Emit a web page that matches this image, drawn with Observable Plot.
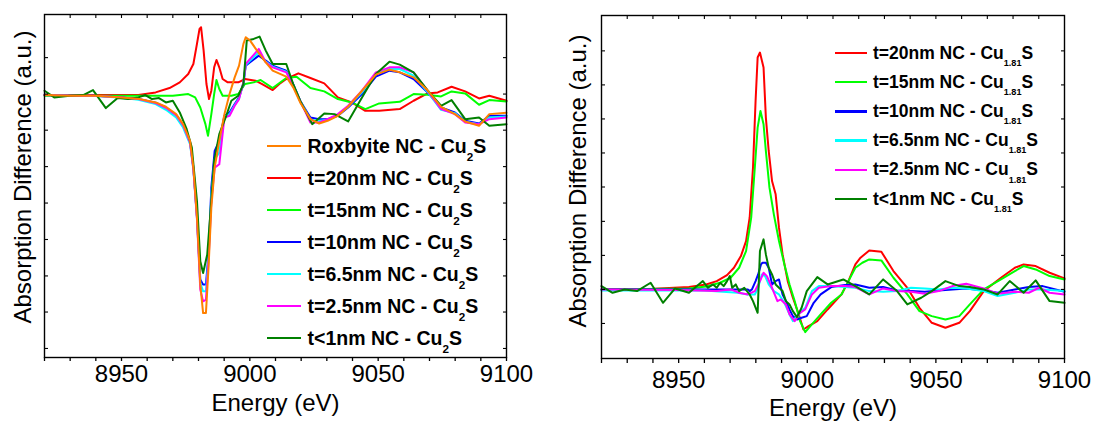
<!DOCTYPE html>
<html><head><meta charset="utf-8">
<script src="https://cdn.jsdelivr.net/npm/d3@7"></script>
<script src="https://cdn.jsdelivr.net/npm/@observablehq/plot@0.6"></script>
<style>
body{margin:0;background:#fff;font-family:"Liberation Sans",Arial,sans-serif;}
#wrap{position:relative;width:1094px;height:423px;overflow:hidden;background:#fff;}
.panel{position:absolute;top:0;}
.legend{position:absolute;font-weight:bold;color:#000;}
.row{position:absolute;left:0;display:flex;align-items:center;white-space:nowrap;}
.sw{flex:none;}
.sub{position:relative;}
</style></head><body><div id="wrap"></div>
<script>
// ---------- axis ticks ----------
const xAllTicks = [8920,8930,8940,8950,8960,8970,8980,8990,9000,9010,9020,9030,9040,9050,9060,9070,9080,9090,9100];
const xTickLabels = [8950,9000,9050,9100];
const leftYTicks = [1.14,0.05,-1.03,-2.12,-3.21,-4.30,-5.39,-6.47,-7.56];
const rightYTicks = [7.15,6.13,5.11,4.09,3.07,2.04,1.02,0,-1.02];

// ---------- left panel series: [energy eV, absorption difference a.u.] ----------
const leftNames = ["Roxbyite NC - Cu|2|S","t=20nm NC - Cu|2|S","t=15nm NC - Cu|2|S","t=10nm NC - Cu|2|S","t=6.5nm NC - Cu|2|S","t=2.5nm NC - Cu|2|S","t<1nm NC - Cu|2|S"];
const leftRoxbyite = [[8920,0.02],[8930,0.00],[8940,0.00],[8950,-0.05],[8957,-0.10],[8963.3,-0.20],[8967.3,-0.33],[8971.3,-0.55],[8974,-0.85],[8976.7,-1.35],[8978,-2.15],[8979.4,-3.65],[8980.7,-5.65],[8981.8,-6.50],[8982.9,-6.50],[8983.9,-5.15],[8985,-3.35],[8986.3,-2.15],[8988.1,-1.35],[8990.1,-0.55],[8992.1,0.05],[8994.1,0.55],[8995.8,0.90],[8997.5,1.55],[8998.4,1.75],[9000.1,1.65],[9002.8,1.35],[9006.2,1.00],[9008.9,0.75],[9014.2,0.57],[9016.9,0.25],[9019.6,-0.20],[9023.6,-0.70],[9027,-0.83],[9030.3,-0.75],[9034.3,-0.60],[9038.3,-0.33],[9043.7,0.15],[9049.1,0.63],[9054.4,0.78],[9058.4,0.70],[9063.8,0.55],[9069.2,0.17],[9074.5,-0.33],[9079.9,-0.55],[9083.9,-0.77],[9089.3,-0.90],[9093.3,-0.55],[9100,-0.51]];
const left20nm = [[8920,0.02],[8940,0.02],[8956.6,0.02],[8963.3,0.10],[8968.7,0.23],[8972.7,0.40],[8976,0.65],[8978,0.95],[8979.4,1.55],[8980.4,2.00],[8981,2.05],[8982,1.35],[8983.1,0.35],[8984.1,-0.10],[8985,0.15],[8986.1,0.85],[8987,1.07],[8988.1,0.85],[8989.4,0.50],[8991.4,0.40],[8995.5,0.40],[8998.1,0.50],[9002.2,0.45],[9004.8,0.35],[9008.9,0.17],[9011.5,0.35],[9014.2,0.50],[9018.9,0.67],[9023.6,0.53],[9029,0.37],[9034.3,-0.05],[9039.7,-0.20],[9045,-0.45],[9050.4,-0.45],[9058.4,-0.40],[9063.8,-0.15],[9069.2,0.07],[9073.2,0.10],[9078.6,0.27],[9083.9,0.13],[9089.3,-0.08],[9093.3,0.00],[9100,-0.15]];
const left15nm = [[8920,0.00],[8950,0.00],[8970,0.00],[8972.7,0.02],[8976,0.05],[8978.7,-0.05],[8980.7,-0.35],[8982.7,-0.85],[8983.7,-1.20],[8985,-0.55],[8986.1,0.05],[8987,0.47],[8988.1,0.20],[8989.4,0.00],[8992.8,0.00],[8995.5,0.05],[8998.1,0.35],[9001.5,0.40],[9004.2,0.47],[9008.9,0.23],[9014.2,0.53],[9018.2,0.57],[9023.6,0.23],[9029,0.13],[9034.3,-0.10],[9039.7,-0.20],[9045,-0.40],[9050.4,-0.23],[9058.4,-0.18],[9063.8,0.05],[9069.2,0.03],[9074.5,-0.02],[9078.6,0.13],[9083.9,0.07],[9089.3,-0.27],[9093.3,-0.13],[9100,-0.17]];
const left10nm = [[8920,0.02],[8930,0.00],[8940,0.00],[8950,-0.05],[8956.6,-0.10],[8963.3,-0.21],[8967.3,-0.35],[8971.3,-0.58],[8974,-0.88],[8976.7,-1.38],[8978,-2.15],[8979.4,-3.60],[8980.7,-5.50],[8981.8,-5.65],[8982.9,-5.65],[8983.9,-4.75],[8985,-2.75],[8986.3,-1.65],[8988.1,-1.35],[8990.1,-0.60],[8992.1,-0.50],[8994.1,-0.25],[8995.8,-0.05],[8997.5,0.35],[8998.4,0.90],[9000.1,1.00],[9003.5,1.20],[9006.2,1.05],[9008.9,0.90],[9014.2,0.75],[9016.9,0.35],[9019.6,-0.15],[9023.6,-0.65],[9027,-0.70],[9030.3,-0.70],[9034.3,-0.60],[9038.3,-0.35],[9043.7,0.05],[9049.1,0.57],[9054.4,0.75],[9058.4,0.70],[9063.8,0.50],[9069.2,0.10],[9074.5,-0.35],[9079.9,-0.50],[9083.9,-0.75],[9089.3,-0.83],[9093.3,-0.60],[9100,-0.60]];
const left6p5nm = [[8920,0.02],[8930,0.00],[8940,-0.01],[8950,-0.06],[8956.6,-0.12],[8963.3,-0.25],[8967.3,-0.42],[8971.3,-0.65],[8974,-0.95],[8976.7,-1.45],[8978,-2.20],[8979.4,-3.65],[8980.7,-5.60],[8981.8,-5.85],[8982.9,-5.85],[8983.9,-4.85],[8985,-2.95],[8986.3,-1.90],[8988.1,-1.70],[8990.1,-0.62],[8992.1,-0.55],[8994.1,-0.28],[8995.8,-0.08],[8997.5,0.40],[8998.4,0.92],[9000.1,1.05],[9003.5,1.30],[9006.2,1.02],[9008.9,0.87],[9014.2,0.72],[9016.9,0.32],[9019.6,-0.15],[9023.6,-0.72],[9027,-0.75],[9030.3,-0.72],[9034.3,-0.58],[9038.3,-0.32],[9043.7,0.10],[9049.1,0.65],[9054.4,0.80],[9058.4,0.80],[9063.8,0.60],[9069.2,0.12],[9074.5,-0.42],[9079.9,-0.52],[9083.9,-0.78],[9089.3,-0.85],[9093.3,-0.65],[9100,-0.62]];
const left2p5nm = [[8920,0.02],[8930,0.00],[8940,0.00],[8950,-0.05],[8956.6,-0.10],[8963.3,-0.22],[8967.3,-0.36],[8971.3,-0.58],[8974,-0.88],[8976.7,-1.40],[8978,-2.20],[8979.4,-3.70],[8980.7,-5.80],[8981.8,-6.15],[8982.9,-6.10],[8983.9,-4.95],[8985,-3.15],[8986.3,-2.15],[8988.1,-2.05],[8990.1,-0.65],[8992.1,-0.60],[8994.1,-0.30],[8995.8,-0.10],[8997.5,0.40],[8998.4,0.95],[9000.1,1.10],[9003.5,1.40],[9006.2,1.00],[9008.9,0.85],[9014.2,0.70],[9016.9,0.30],[9019.6,-0.15],[9023.6,-0.80],[9027,-0.80],[9030.3,-0.70],[9034.3,-0.55],[9038.3,-0.30],[9043.7,0.15],[9049.1,0.70],[9054.4,0.85],[9058.4,0.85],[9063.8,0.70],[9069.2,0.15],[9074.5,-0.40],[9079.9,-0.55],[9083.9,-0.80],[9089.3,-0.85],[9093.3,-0.70],[9100,-0.65]];
const leftUnder1nm = [[8920,0.15],[8923.8,-0.05],[8929.8,0.00],[8935.1,0.02],[8938.9,0.17],[8943.9,-0.37],[8948.5,-0.07],[8952.6,-0.10],[8956.6,-0.05],[8959.3,0.02],[8961.9,-0.10],[8964.6,-0.07],[8967.3,-0.20],[8970,-0.15],[8972.7,-0.50],[8975.4,-1.00],[8977.4,-1.55],[8979.4,-3.15],[8980.7,-4.95],[8981.8,-5.30],[8983.4,-4.75],[8984.5,-3.65],[8986.1,-1.95],[8988.1,-1.15],[8990.8,-0.60],[8992.8,-0.15],[8995.5,0.00],[8997.5,0.35],[8998.8,1.65],[9001.5,1.70],[9003.8,1.77],[9006.2,1.35],[9008.9,0.95],[9014.2,0.95],[9016.9,0.35],[9019.6,-0.15],[9024.3,-0.85],[9029,-0.53],[9033,-0.55],[9038.3,-0.77],[9043.7,-0.05],[9049.1,0.65],[9054.4,1.02],[9058.4,0.93],[9063.8,0.70],[9069.2,0.17],[9074.5,-0.30],[9078.6,-0.13],[9083.9,-0.70],[9089.3,-0.65],[9093.3,-0.90],[9100,-0.85]];

// ---------- right panel series ----------
const rightNames = ["t=20nm NC - Cu|1.81|S","t=15nm NC - Cu|1.81|S","t=10nm NC - Cu|1.81|S","t=6.5nm NC - Cu|1.81|S","t=2.5nm NC - Cu|1.81|S","t<1nm NC - Cu|1.81|S"];
const right20nm = [[8920,0.00],[8940.5,0.02],[8954,0.07],[8960.7,0.15],[8964.8,0.25],[8968.8,0.43],[8971.5,0.65],[8974.2,1.00],[8976.2,1.45],[8977.6,2.15],[8978.9,3.65],[8979.9,5.65],[8980.7,6.95],[8981.6,7.10],[8983,6.65],[8983.9,5.15],[8985,4.15],[8986.3,3.25],[8987.7,2.85],[8989,1.85],[8990.4,1.05],[8992.4,0.25],[8994.4,-0.25],[8996.5,-0.70],[8998.5,-1.20],[9000.5,-1.10],[9003.9,-0.95],[9007.9,-0.60],[9013.3,-0.15],[9016,0.25],[9018.7,0.75],[9020.7,0.95],[9024.1,1.17],[9028.8,1.13],[9033.5,0.55],[9038.9,0.05],[9043.6,-0.55],[9048.4,-1.00],[9053.7,-1.15],[9059.1,-1.00],[9063.2,-0.65],[9068.6,-0.05],[9075.3,0.35],[9080.7,0.65],[9084.1,0.75],[9088.8,0.70],[9094.2,0.50],[9100,0.33]];
const right15nm = [[8920,0.00],[8954,0.03],[8960.7,0.09],[8966.1,0.20],[8970.2,0.35],[8973.5,0.65],[8976.2,1.15],[8978.2,2.15],[8979.6,3.65],[8980.7,4.85],[8981.8,5.35],[8983,4.95],[8983.9,4.15],[8985.3,3.05],[8987,2.25],[8989,1.45],[8991.1,0.75],[8993.1,0.15],[8995.1,-0.35],[8997.2,-0.95],[8999.2,-1.28],[9001.2,-1.10],[9005.2,-0.75],[9009.3,-0.40],[9013.3,-0.15],[9016,0.25],[9018.7,0.65],[9021.4,0.80],[9024.1,0.90],[9028.8,0.87],[9033.5,0.35],[9038.9,-0.15],[9043.6,-0.65],[9048.4,-0.80],[9053.7,-0.90],[9059.1,-0.80],[9063.2,-0.45],[9068.6,0.00],[9075.3,0.30],[9080.7,0.55],[9084.1,0.70],[9088.8,0.60],[9094.2,0.40],[9100,0.30]];
const right10nm = [[8920,0.00],[8976.9,0.00],[8977.6,-0.05],[8978.5,0.00],[8979.9,0.25],[8980.9,0.45],[8982,0.75],[8982.6,0.80],[8983.9,0.80],[8985,0.65],[8986.3,0.15],[8987.7,0.25],[8989,0.30],[8990.4,-0.15],[8991.7,-0.35],[8993.1,-0.60],[8994.4,-0.80],[8996,-0.90],[8997.8,-0.85],[8999.8,-0.80],[9002.5,-0.40],[9005.2,-0.15],[9009.3,0.07],[9014.7,0.13],[9018.7,0.15],[9024.1,0.05],[9029.5,0.07],[9034.9,-0.03],[9040.3,-0.05],[9045.7,-0.07],[9051.1,-0.03],[9056.4,0.00],[9061.8,0.03],[9068.6,-0.03],[9074,-0.10],[9080.7,0.00],[9086.1,0.07],[9091.5,0.10],[9100,-0.07]];
const right6p5nm = [[8920,-0.03],[8960,-0.03],[8972.9,-0.10],[8976.9,-0.15],[8979.6,-0.15],[8980.9,0.05],[8982.3,0.45],[8983.6,0.40],[8985,0.15],[8987,-0.05],[8989,-0.15],[8991.1,-0.40],[8993.1,-0.75],[8994.4,-0.95],[8996.5,-0.75],[8999.2,-0.55],[9001.8,-0.05],[9004.5,0.10],[9009.3,0.10],[9014.7,0.07],[9018.7,0.05],[9024.1,-0.05],[9029.5,-0.07],[9034.9,-0.05],[9040.3,0.05],[9045.7,0.03],[9051.1,0.00],[9056.4,0.05],[9061.8,0.03],[9068.6,-0.05],[9074,-0.20],[9080.7,-0.10],[9086.1,0.00],[9091.5,0.00],[9100,-0.05]];
const right2p5nm = [[8920,0.00],[8950,-0.02],[8964.8,-0.05],[8970.2,0.00],[8973.5,-0.10],[8976.9,-0.15],[8979.6,-0.05],[8981.6,0.25],[8983,0.50],[8984.3,0.40],[8986.3,0.05],[8988.4,-0.35],[8989.7,-0.30],[8991.7,-0.45],[8993.1,-0.75],[8995.1,-0.95],[8997.2,-0.70],[8999.2,-0.60],[9001.8,-0.15],[9004.5,0.05],[9009.3,0.10],[9014.7,0.10],[9018.7,0.07],[9024.1,-0.15],[9029.5,0.03],[9034.9,-0.05],[9040.3,-0.07],[9045.7,-0.13],[9051.1,-0.05],[9056.4,0.10],[9061.8,0.17],[9068.6,0.03],[9074,-0.13],[9080.7,-0.07],[9086.1,-0.10],[9090.1,0.05],[9094.2,-0.10],[9100,-0.15]];
const rightUnder1nm = [[8920,0.10],[8924.3,-0.10],[8929,0.00],[8933.8,-0.05],[8939.1,0.20],[8943.9,-0.40],[8948.6,0.03],[8954,-0.10],[8959.4,0.25],[8961.4,0.05],[8963.4,0.15],[8964.8,0.05],[8966.1,0.20],[8967.5,0.10],[8968.8,0.25],[8969.9,0.40],[8970.8,0.05],[8972.2,0.15],[8973.5,-0.05],[8975.5,0.05],[8977.6,-0.15],[8978.9,-0.35],[8980.7,-0.70],[8981.6,1.15],[8983,1.50],[8983.9,1.05],[8985,0.65],[8986.3,0.45],[8987.7,0.15],[8989,0.05],[8990.4,-0.05],[8991.7,-0.35],[8993.1,-0.45],[8994.4,-0.65],[8996,-0.83],[8997.8,-0.55],[8999.8,-0.05],[9003.9,0.37],[9007.9,0.15],[9014,0.30],[9018.7,0.10],[9024.1,-0.15],[9029.5,0.30],[9034.9,-0.05],[9038.9,-0.45],[9044.3,-0.25],[9048.4,-0.05],[9053.7,0.25],[9059.1,0.10],[9063.2,0.07],[9068.6,0.00],[9074,-0.15],[9078.7,0.25],[9084.1,-0.10],[9088.8,0.27],[9094.2,-0.35],[9100,-0.40]];

const leftColors = ["#FF8000","#FF0000","#00FF00","#0000FF","#00FFFF","#FF00FF","#008000"];
const rightColors = ["#FF0000","#00FF00","#0000FF","#00FFFF","#FF00FF","#008000"];
const leftSeries = [leftRoxbyite,left20nm,left15nm,left10nm,left6p5nm,left2p5nm,leftUnder1nm];
const rightSeries = [right20nm,right15nm,right10nm,right6p5nm,right2p5nm,rightUnder1nm];

const FONT = '"Liberation Sans", Arial, Helvetica, sans-serif';

function panel(cfg){
  const lines = cfg.order.map(i => Plot.line(cfg.series[i], {x: d => d[0], y: d => d[1], stroke: cfg.colors[i], strokeWidth: 2, strokeLinejoin:"round"}));
  return Plot.plot({
    width: cfg.width, height: 423,
    marginLeft: cfg.ml, marginRight: cfg.mr, marginTop: cfg.mt, marginBottom: cfg.mb,
    style: {fontFamily: FONT, fontSize: "24px", background: "transparent", color: "#000", overflow: "visible"},
    x: {domain: [8920, 9100], label: null},
    y: {domain: cfg.ydomain, label: null},
    marks: [
      ...lines,
      Plot.frame({stroke: "#000", strokeWidth: 1.4}),
      Plot.axisX(xAllTicks, {anchor: "bottom", tickSize: cfg.tickB, tickPadding: cfg.padB, strokeWidth: 1.3, fontSize: 24, label: null,
        tickFormat: d => xTickLabels.includes(d) ? String(d) : ""}),
      Plot.axisX(xAllTicks.slice(1, -1), {anchor: "top", tickSize: -3, strokeWidth: 1.1, label: null, tickFormat: () => ""}),
      Plot.axisY(cfg.yticks, {anchor: "left", tickSize: -4, strokeWidth: 1.1, label: null, tickFormat: () => ""}),
      Plot.axisY(cfg.yticks, {anchor: "right", tickSize: -4, strokeWidth: 1.1, label: null, tickFormat: () => ""}),
      Plot.text(["Energy (eV)"], {frameAnchor: "bottom", dy: cfg.xlabDy, fontSize: 24, textAnchor: "middle", lineAnchor: "middle", fill: "#000"}),
      Plot.text(["Absorption Difference (a.u.)"], {frameAnchor: "left", rotate: -90, dx: cfg.ylabDx, dy: cfg.ylabDy, fontSize: 24, textAnchor: "middle", lineAnchor: "middle", fill: "#000"})
    ]
  });
}

function legend(names, colors, cfg){
  const lg = document.createElement("div");
  lg.className = "legend";
  lg.style.left = cfg.left + "px"; lg.style.top = "0px";
  lg.style.fontSize = cfg.fontSize + "px";
  names.forEach((n, i) => {
    const [a, sub, b] = n.split("|");
    const row = document.createElement("div");
    row.className = "row";
    row.style.top = (cfg.top + i * cfg.step - 15) + "px";
    row.style.height = "30px";
    row.innerHTML = `<span class="sw" style="width:${cfg.sw}px;height:2.6px;background:${colors[i]};margin-right:${cfg.gap}px"></span><span>${a.replace("<","&lt;")}<span class="sub" style="font-size:${cfg.subSize};top:${cfg.subShift}">${sub}</span>${b}</span>`;
    lg.appendChild(row);
  });
  return lg;
}

const wrap = document.getElementById("wrap");
const p1 = document.createElement("div"); p1.className = "panel"; p1.style.left = "0px";
p1.appendChild(panel({width: 540, ml: 44, mr: 34, mt: 14, mb: 66, ydomain: [-7.83, 2.43], yticks: leftYTicks,
  series: leftSeries, colors: leftColors, order: [1,2,3,4,5,6,0], tickB: 4, padB: 3, xlabDy: 46, ylabDx: -21, ylabDy: -9}));
wrap.appendChild(p1);
const p2 = document.createElement("div"); p2.className = "panel"; p2.style.left = "550px";
p2.appendChild(panel({width: 544, ml: 51, mr: 30, mt: 15, mb: 65, ydomain: [-2.07, 8.21], yticks: rightYTicks,
  series: rightSeries, colors: rightColors, order: [0,1,2,3,4,5], tickB: 5, padB: 7, xlabDy: 50, ylabDx: -23, ylabDy: -6}));
wrap.appendChild(p2);

wrap.appendChild(legend(leftNames, leftColors, {left: 267, top: 146, step: 32, fontSize: 19.5, sw: 34, gap: 6.5, subSize: "60%", subShift: "0.7em"}));
wrap.appendChild(legend(rightNames, rightColors, {left: 835, top: 53, step: 29.2, fontSize: 17.5, sw: 32, gap: 6, subSize: "52%", subShift: "0.8em"}));
</script></body></html>
